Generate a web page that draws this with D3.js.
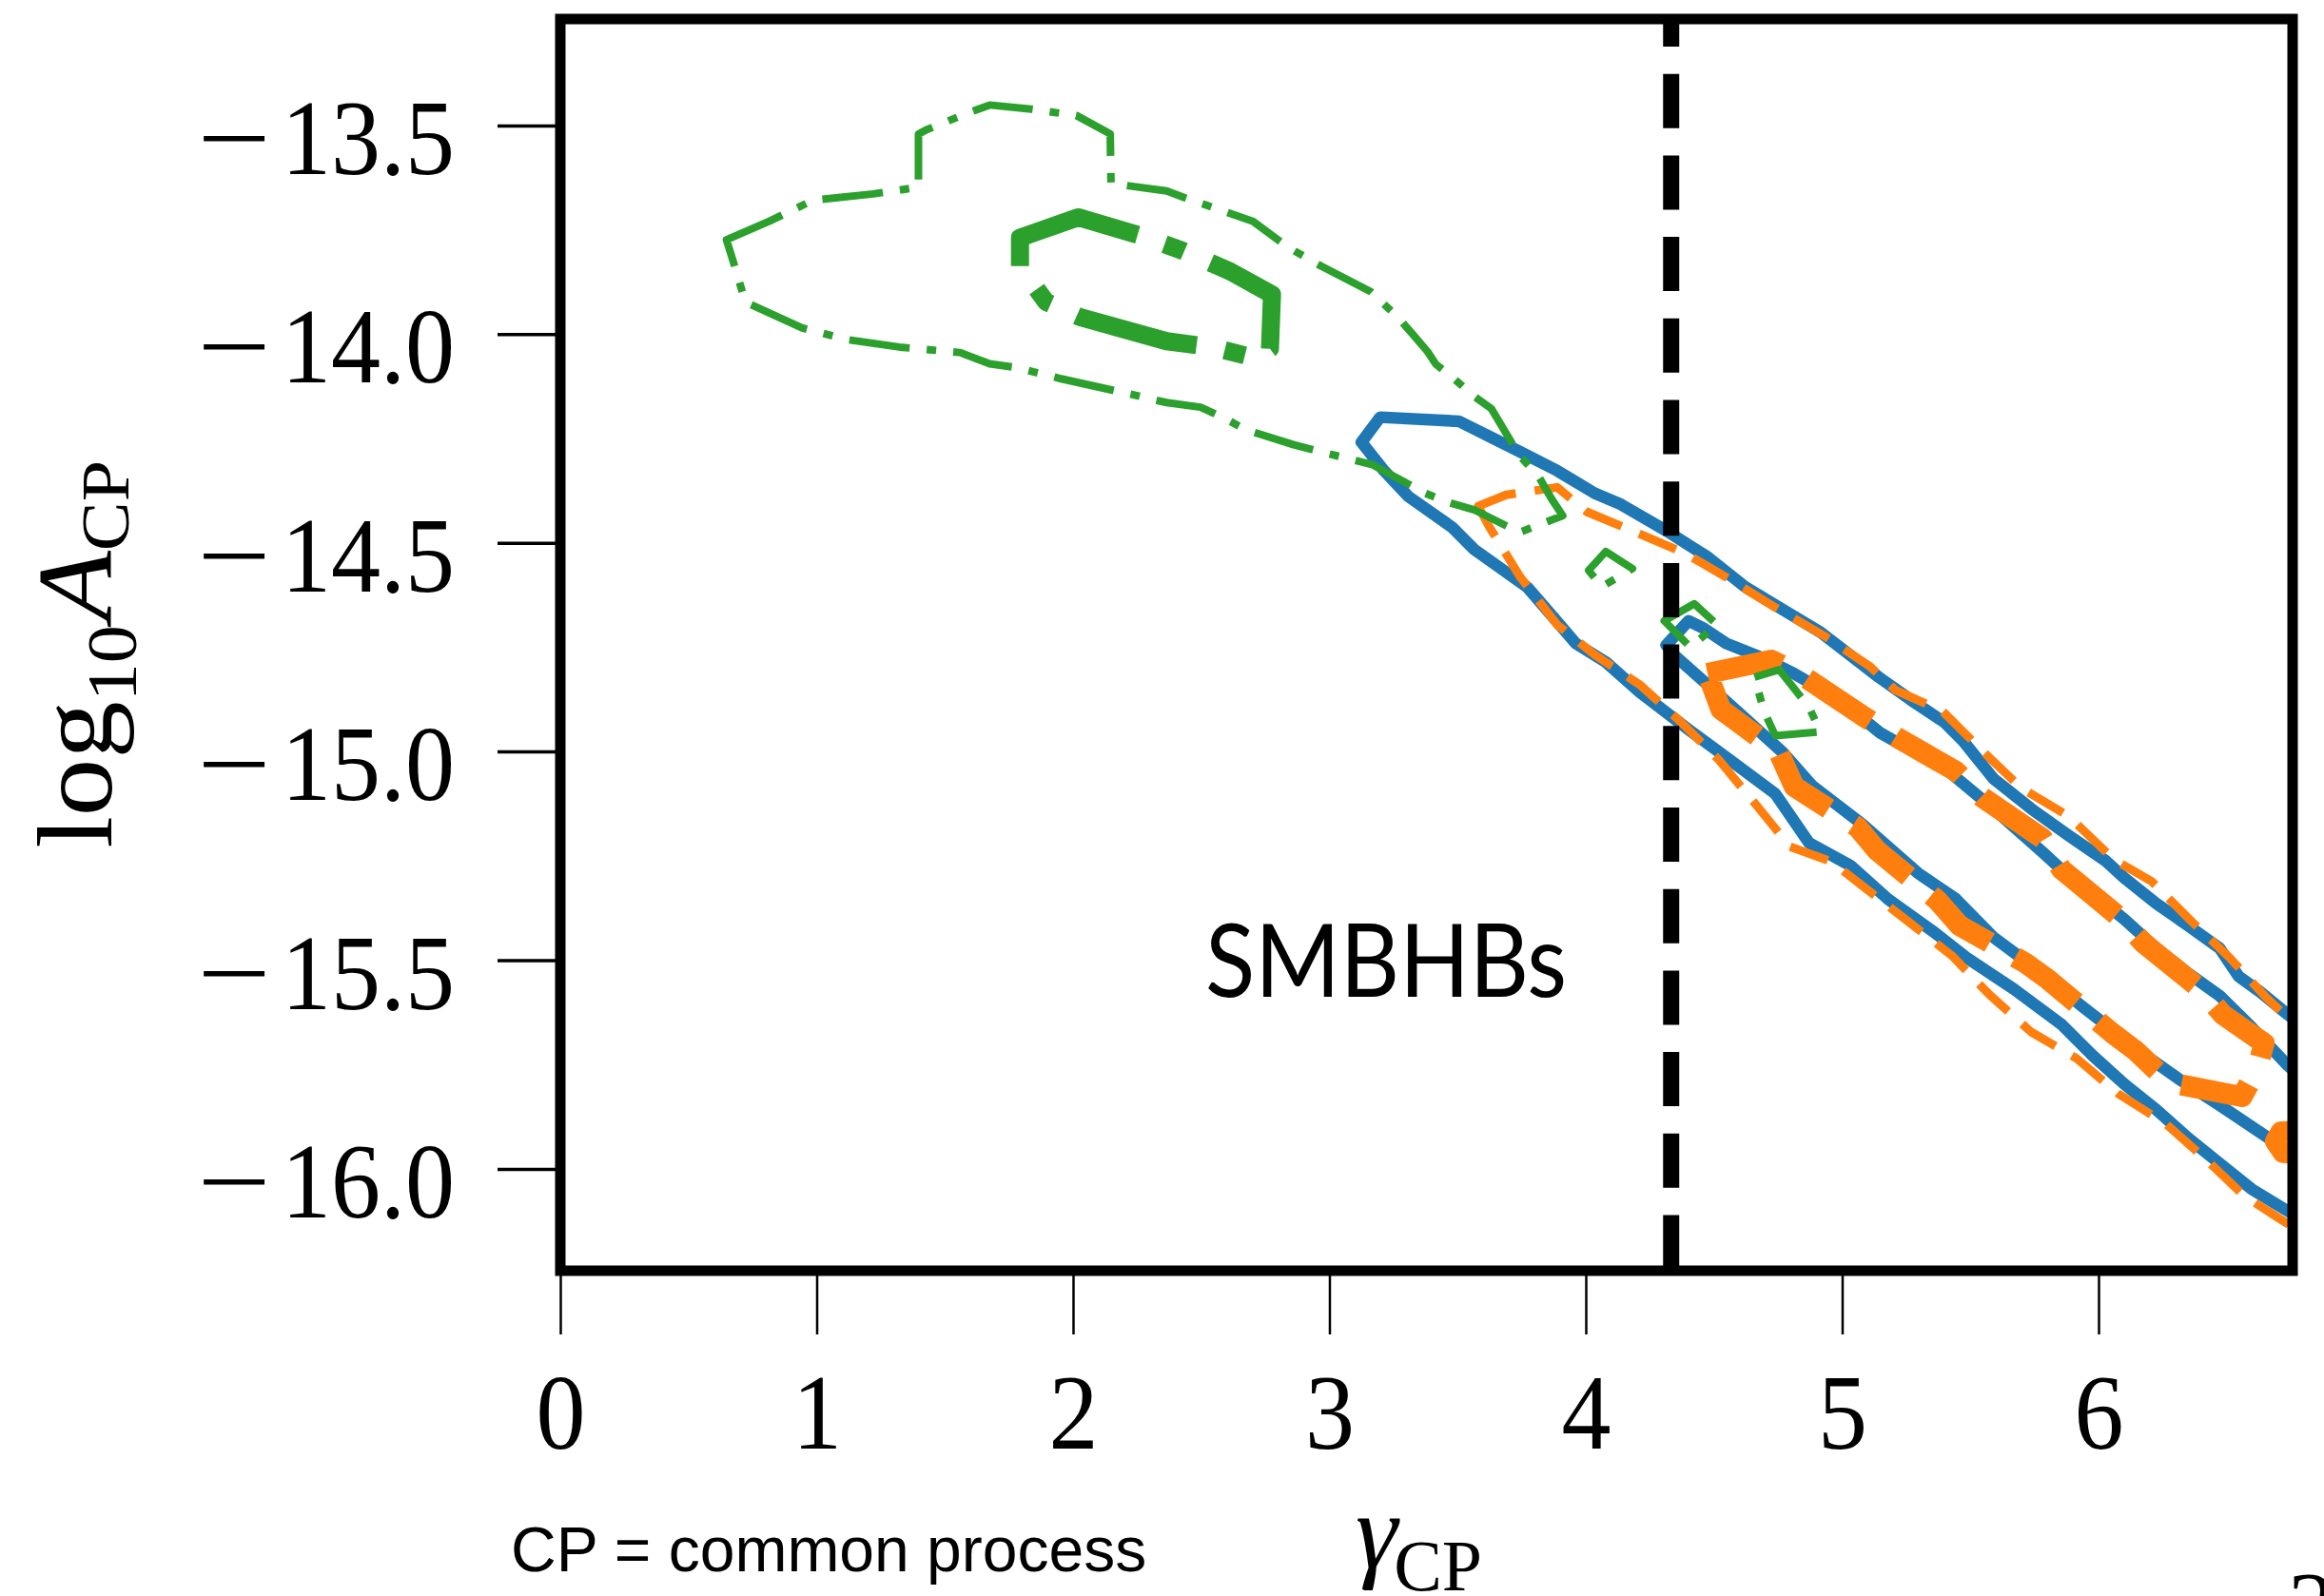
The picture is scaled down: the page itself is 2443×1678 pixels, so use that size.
<!DOCTYPE html>
<html><head><meta charset="utf-8">
<script src="https://cdn.jsdelivr.net/npm/d3@7"></script>
<style>html,body{margin:0;padding:0;background:#fff;} svg{display:block;}</style>
</head><body>
<svg id="chart" width="2443" height="1678"></svg>
<script>
// ---------- data ----------
const xTicks = [0, 1, 2, 3, 4, 5, 6];
const yTicks = [-13.5, -14.0, -14.5, -15.0, -15.5, -16.0];
const xDomain = [0, 6.757];
const yDomain = [-16.244, -13.245];
const gammaSMBHB = 4.333;

const greenOuter = [[0.648,-13.774],[0.817,-13.729],[0.986,-13.679],[1.220,-13.664],[1.397,-13.648],[1.397,-13.521],[1.426,-13.511],[1.602,-13.467],[1.675,-13.451],[1.837,-13.461],[2.013,-13.476],[2.145,-13.520],[2.148,-13.639],[2.365,-13.657],[2.453,-13.677],[2.614,-13.711],[2.702,-13.730],[2.839,-13.792],[2.968,-13.837],[3.160,-13.898],[3.265,-13.958],[3.320,-13.997],[3.383,-14.042],[3.415,-14.072],[3.479,-14.103],[3.564,-14.149],[3.631,-14.178],[3.741,-14.291],[3.815,-14.340],[3.866,-14.394],[3.910,-14.435],[3.741,-14.475],[3.565,-14.421],[3.462,-14.403],[3.374,-14.381],[3.169,-14.313],[2.993,-14.286],[2.861,-14.265],[2.673,-14.229],[2.593,-14.202],[2.497,-14.175],[2.365,-14.164],[2.189,-14.139],[1.954,-14.107],[1.778,-14.080],[1.675,-14.071],[1.558,-14.044],[1.323,-14.031],[1.118,-14.013],[0.942,-13.985],[0.722,-13.923],[0.671,-13.819]];
const greenInner = [[1.793,-13.769],[2.020,-13.720],[2.269,-13.765],[2.431,-13.801],[2.614,-13.850],[2.776,-13.905],[2.768,-14.035],[2.717,-14.058],[2.541,-14.031],[2.365,-14.017],[2.027,-13.959],[1.895,-13.923],[1.793,-13.837]];
const greenIslandB = [[4.011,-14.566],[4.078,-14.521],[4.182,-14.562],[4.063,-14.605]];
const greenIslandC = [[4.306,-14.687],[4.423,-14.646],[4.512,-14.696],[4.408,-14.750]];
const greenIslandD = [[4.658,-14.822],[4.754,-14.804],[4.871,-14.894],[4.915,-14.953],[4.739,-14.962],[4.695,-14.903]];

const blueOuterUpper = [[3.125,-14.259],[3.198,-14.199],[3.506,-14.209],[3.624,-14.245],[3.741,-14.281],[3.888,-14.327],[4.034,-14.381],[4.137,-14.408],[4.314,-14.471],[4.475,-14.534],[4.622,-14.606],[4.768,-14.660],[4.915,-14.714],[5.143,-14.822],[5.267,-14.876],[5.399,-14.930],[5.472,-14.975],[5.590,-15.065],[5.737,-15.137],[5.883,-15.201],[6.030,-15.263],[6.101,-15.303],[6.225,-15.364],[6.349,-15.417],[6.472,-15.471],[6.547,-15.539],[6.633,-15.577],[6.738,-15.630],[6.905,-15.706]];
const blueOuterLower = [[3.213,-14.327],[3.308,-14.389],[3.477,-14.462],[3.565,-14.516],[3.771,-14.606],[3.873,-14.678],[3.961,-14.741],[4.079,-14.786],[4.211,-14.858],[4.402,-14.948],[4.562,-15.020],[4.739,-15.101],[4.871,-15.219],[5.032,-15.273],[5.179,-15.354],[5.359,-15.433],[5.483,-15.493],[5.669,-15.569],[5.854,-15.653],[5.978,-15.729],[6.101,-15.797],[6.225,-15.858],[6.349,-15.926],[6.472,-15.987],[6.596,-16.048],[6.738,-16.101],[6.905,-16.162]];
const blueInnerUpper = [[4.314,-14.745],[4.401,-14.687],[4.460,-14.705],[4.548,-14.741],[4.695,-14.777],[4.812,-14.813],[4.988,-14.876],[5.150,-14.956],[5.414,-15.047],[5.590,-15.137],[5.785,-15.243],[5.879,-15.296],[5.978,-15.341],[6.101,-15.402],[6.225,-15.471],[6.349,-15.531],[6.472,-15.585],[6.596,-15.660],[6.738,-15.752],[6.905,-15.843]];
const blueInnerLower = [[4.343,-14.768],[4.475,-14.840],[4.622,-14.921],[4.768,-15.002],[4.885,-15.083],[5.076,-15.173],[5.295,-15.291],[5.443,-15.353],[5.588,-15.444],[5.737,-15.512],[5.941,-15.613],[6.174,-15.724],[6.312,-15.784],[6.471,-15.847],[6.738,-15.957],[6.905,-16.025]];

const orangeOuterUpper = [[3.580,-14.412],[3.690,-14.385],[3.888,-14.367],[4.005,-14.426],[4.181,-14.471],[4.387,-14.525],[4.563,-14.588],[4.739,-14.655],[4.930,-14.723],[5.106,-14.795],[5.208,-14.853],[5.391,-14.903],[5.546,-14.998],[5.700,-15.088],[5.883,-15.155],[6.058,-15.258],[6.207,-15.311],[6.361,-15.406],[6.510,-15.493],[6.658,-15.592],[6.738,-15.638],[6.905,-15.717]];
const orangeOuterLower = [[3.624,-14.462],[3.741,-14.579],[3.888,-14.696],[4.034,-14.768],[4.211,-14.840],[4.372,-14.930],[4.519,-15.020],[4.666,-15.129],[4.797,-15.228],[4.958,-15.264],[5.098,-15.331],[5.259,-15.408],[5.428,-15.489],[5.575,-15.583],[5.737,-15.672],[5.916,-15.736],[6.077,-15.820],[6.262,-15.892],[6.417,-15.976],[6.565,-16.063],[6.708,-16.120],[6.905,-16.196]];
const orangeInner = [[4.475,-14.813],[4.724,-14.781],[4.842,-14.817],[5.076,-14.913],[5.210,-14.965],[5.443,-15.047],[5.547,-15.110],[5.781,-15.208],[5.855,-15.282],[6.089,-15.401],[6.174,-15.458],[6.397,-15.569],[6.486,-15.631],[6.646,-15.699],[6.620,-15.758],[6.560,-15.827],[6.275,-15.793],[6.145,-15.717],[6.052,-15.674],[5.803,-15.546],[5.718,-15.508],[5.458,-15.417],[5.369,-15.355],[5.135,-15.237],[5.061,-15.182],[4.813,-15.084],[4.753,-15.002],[4.527,-14.899]];
const orangeEdge = [[6.712,-15.911],[6.690,-15.934],[6.720,-15.961],[6.905,-15.968],[6.905,-15.907]];

// ---------- chart ----------
const svg = d3.select('#chart');
const plot = {left: 589, right: 2410, top: 20, bottom: 1336};
const x = d3.scaleLinear().domain(xDomain).range([plot.left, plot.right]);
const y = d3.scaleLinear().domain(yDomain).range([plot.bottom, plot.top]);

svg.append('defs').append('clipPath').attr('id', 'clip')
  .append('rect').attr('x', plot.left).attr('y', plot.top)
  .attr('width', plot.right - plot.left).attr('height', plot.bottom - plot.top);

const plotG = svg.append('g').attr('clip-path', 'url(#clip)');
const closed = d3.line().x(d => x(d[0])).y(d => y(d[1])).curve(d3.curveLinearClosed);

function ring(upper, lower) { return upper.concat(lower.slice().reverse()); }
function draw(pts, color, width, dash, offset) {
  plotG.append('path').attr('d', closed(pts)).attr('fill', 'none')
    .attr('stroke', color).attr('stroke-width', width)
    .attr('stroke-dasharray', dash).attr('stroke-dashoffset', offset || 0)
    .attr('stroke-linejoin', 'round');
}
const BLUE = '#1f77b4', ORANGE = '#ff7f0e', GREEN = '#2ca02c';

draw(ring(blueOuterUpper, blueOuterLower), BLUE, 12.5, null);
draw(ring(blueInnerUpper, blueInnerLower), BLUE, 12.5, null);
draw(ring(orangeOuterUpper, orangeOuterLower), ORANGE, 9, '42 20');
draw(orangeInner, ORANGE, 22, '80 31');
draw(orangeEdge, ORANGE, 22, null);
draw(greenOuter, GREEN, 8, '64 18 10 18');
draw(greenInner, GREEN, 19, '130 30 22 30', 0);
draw(greenIslandB, GREEN, 8, '64 18 10 18');
draw(greenIslandC, GREEN, 8, '64 18 10 18');
draw(greenIslandD, GREEN, 8, '64 18 10 18');

// SMBHB reference line
plotG.append('line')
  .attr('x1', x(gammaSMBHB)).attr('x2', x(gammaSMBHB))
  .attr('y1', plot.top).attr('y2', plot.bottom)
  .attr('stroke', '#000').attr('stroke-width', 17)
  .attr('stroke-dasharray', '57 28.7').attr('stroke-dashoffset', 28);

// frame
svg.append('rect').attr('x', plot.left).attr('y', plot.top)
  .attr('width', plot.right - plot.left).attr('height', plot.bottom - plot.top)
  .attr('fill', 'none').attr('stroke', '#000').attr('stroke-width', 11);

// axes
const serif = 'Liberation Serif, Times New Roman, serif';
const gx = svg.append('g').attr('transform', `translate(0,${plot.bottom})`)
  .call(d3.axisBottom(x).tickValues(xTicks).tickSize(67).tickPadding(0).tickFormat(d3.format('d')));
gx.select('.domain').remove();
gx.attr('font-family', serif).attr('font-size', 104);
gx.selectAll('.tick line').attr('stroke', '#000').attr('stroke-width', 2.5);
gx.selectAll('.tick text').attr('fill', '#000').attr('dy', 0)
  .attr('y', 187 / 1.08).attr('transform', 'scale(1,1.08)');

const gy = svg.append('g').attr('transform', `translate(${plot.left},0)`)
  .call(d3.axisLeft(y).tickValues(yTicks).tickSize(66).tickPadding(0)
    .tickFormat(d => d3.format('.1f')(Math.abs(d))));
gy.select('.domain').remove();
gy.attr('font-family', serif).attr('font-size', 104);
gy.selectAll('.tick line').attr('stroke', '#000').attr('stroke-width', 3.5);
gy.selectAll('.tick text').attr('fill', '#000').attr('x', -111).attr('dy', '0.45em')
  .attr('text-anchor', 'end').attr('transform', 'scale(1,1.08)');
// long math minus in front of each (negative) label
gy.selectAll('.tick').filter(d => d < 0).append('text')
  .attr('fill', '#000').attr('text-anchor', 'middle')
  .attr('x', -343 / 1.32).attr('dy', '0.45em')
  .attr('transform', 'scale(1.32,1.08)').text('\u2212');

// y axis label
const yl = svg.append('text')
  .attr('transform', 'translate(117,688) rotate(-90) scale(1.08,1)')
  .attr('text-anchor', 'middle').attr('font-family', serif).attr('font-size', 112).attr('fill', '#000');
yl.append('tspan').text('log');
yl.append('tspan').attr('dy', 26).attr('font-size', 74).text('10');
yl.append('tspan').attr('dy', -26).attr('dx', 4).attr('font-style', 'italic').text('A');
yl.append('tspan').attr('dy', 18).attr('font-size', 72).text('CP');

// x axis label
const xl = svg.append('text').attr('x', 1425).attr('y', 1648)
  .attr('font-family', serif).attr('font-size', 112).attr('fill', '#000');
xl.append('tspan').attr('font-style', 'italic').text('γ');
xl.append('tspan').attr('dy', 24).attr('dx', -4).attr('font-size', 76).text('CP');

// annotations
svg.append('text').attr('x', 1267).attr('y', 1048)
  .attr('font-family', 'Lato, sans-serif').attr('font-size', 107)
  .attr('textLength', 380).attr('lengthAdjust', 'spacingAndGlyphs')
  .attr('fill', '#000').text('SMBHBs');

svg.append('text').attr('x', 537).attr('y', 1652)
  .attr('font-family', 'Liberation Sans, Arial, sans-serif').attr('font-size', 66)
  .attr('fill', '#000').text('CP = common process');

svg.append('text').attr('x', 2405).attr('y', 1721)
  .attr('font-family', serif).attr('font-size', 100).attr('fill', '#000').text('2');
</script>
</body></html>
